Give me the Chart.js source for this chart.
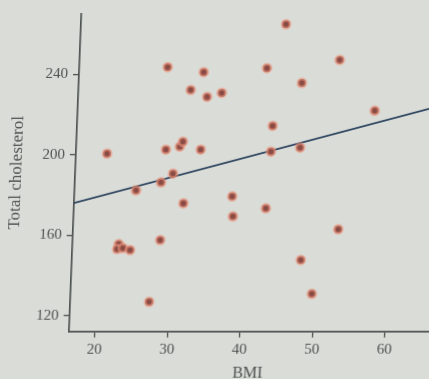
<!DOCTYPE html>
<html>
<head>
<meta charset="utf-8">
<script src="https://cdn.jsdelivr.net/npm/chart.js@4/dist/chart.umd.min.js"></script>
<style>
  html, body { margin: 0; padding: 0; background: #d9dcd7; overflow: hidden; }
  #wrap { width: 429px; height: 379px; position: relative; overflow: hidden; }
  /* the printed figure sits slightly slanted on the page */
  #c { transform-origin: 69px 331.7px; transform: skewX(-2.23deg); }
</style>
</head>
<body>
<div id="wrap"><canvas id="c" width="429" height="379"></canvas></div>
<script>
// BMI and total cholesterol for each subject
const bmi = [20.7, 28.8, 30.7, 31.1, 33.6, 29.9, 28.3, 24.9, 31.5, 22.8, 22.6, 23.4,
             24.4, 28.5, 27.3, 28.6, 33.6, 31.9, 34.2, 36.2, 42.3, 44.7, 52.3, 47.2,
             57.4, 43.4, 43.3, 47.3, 38.2, 42.9, 38.4, 53.0, 48.0, 49.7];
const cholesterol = [200.6, 202.6, 204.1, 206.5, 202.6, 190.7, 186.3, 182.3, 175.9, 155.6, 153.1, 153.6,
                     152.6, 157.6, 126.9, 243.6, 241.1, 232.2, 228.8, 230.8, 243.1, 264.9, 247.1, 235.7,
                     221.9, 214.4, 201.6, 203.6, 179.3, 173.4, 169.4, 163.0, 147.7, 130.9];

// Least-squares line, given by its two end points
const fitBmi = [16.41, 66.07];
const fitChol = [176.0, 224.0];

const xTicks = [20, 30, 40, 50, 60];
const yTicks = [120, 160, 200, 240];

const serif = "'Liberation Serif', 'DejaVu Serif', serif";
const ink = '#4e5352';

new Chart(document.getElementById('c'), {
  type: 'scatter',
  data: {
    datasets: [
      {
        label: 'Regression line',
        type: 'line',
        data: fitBmi.map((x, i) => ({ x, y: fitChol[i] })),
        borderColor: '#2c435e',
        borderWidth: 1.8,
        pointRadius: 0,
        fill: false,
        order: 2
      },
      {
        label: 'Subjects',
        data: bmi.map((x, i) => ({ x, y: cholesterol[i] })),
        backgroundColor: '#8a4b44',
        borderColor: 'rgba(236, 150, 125, 0.55)',
        borderWidth: 3,
        pointRadius: 4,
        order: 1
      }
    ]
  },
  options: {
    responsive: false,
    animation: false,
    layout: { autoPadding: false, padding: { top: 12, right: 0, left: 0, bottom: 0 } },
    plugins: { legend: { display: false }, tooltip: { enabled: false } },
    scales: {
      x: {
        type: 'linear',
        min: 16.41,
        max: 66.07,
        afterFit: s => { s.height = 47.3; },
        afterBuildTicks: s => { s.ticks = xTicks.map(v => ({ value: v })); },
        grid: { drawOnChartArea: false, drawTicks: true, tickLength: 6, color: ink, lineWidth: 1.3 },
        border: { display: true, color: ink, width: 1.7 },
        ticks: { color: ink, font: { family: serif, size: 15 }, padding: 3, maxRotation: 0 },
        title: { display: true, text: 'BMI', color: ink, font: { family: serif, size: 16, lineHeight: 1 }, padding: { top: 0, bottom: -3 } }
      },
      y: {
        type: 'linear',
        min: 112.2,
        max: 270,
        afterFit: s => { s.width = 69; },
        afterBuildTicks: s => { s.ticks = yTicks.map(v => ({ value: v })); },
        grid: { drawOnChartArea: false, drawTicks: true, tickLength: 6, color: ink, lineWidth: 1.3 },
        border: { display: true, color: ink, width: 1.7 },
        ticks: { color: ink, font: { family: serif, size: 15 }, padding: 5 },
        title: { display: true, text: 'Total cholesterol', color: ink, font: { family: serif, size: 17, lineHeight: 1 }, padding: { top: 2, bottom: 0 } }
      }
    }
  }
});
</script>
</body>
</html>
